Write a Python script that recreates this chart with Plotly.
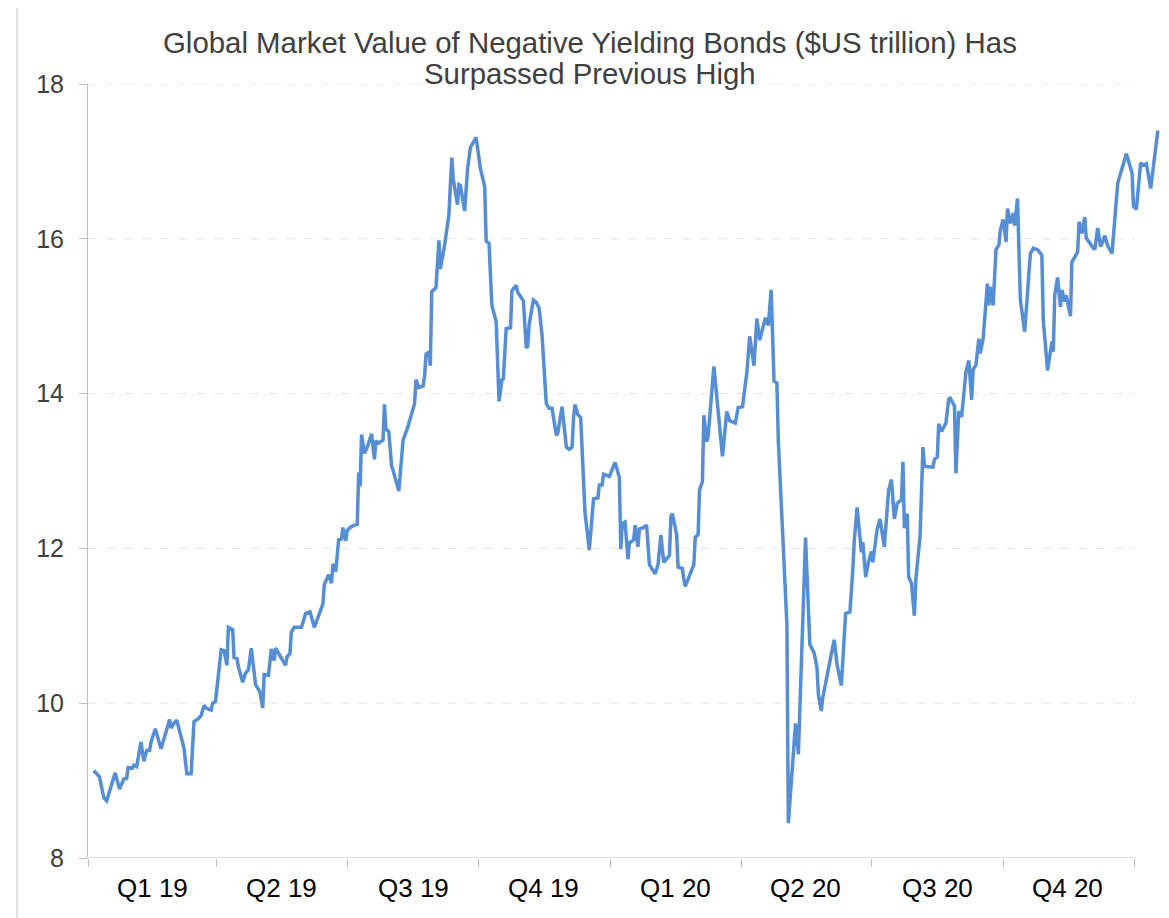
import pandas as pd
import plotly.graph_objects as go

# days after 1 Jan 2019
day_offsets = [
    4, 8, 11, 13, 19, 22, 25, 27, 28, 31, 32, 34, 37, 39, 41, 43, 44, 47, 51, 53,
    54, 57, 58, 60, 62, 67, 69, 72, 74, 77, 79, 81, 83, 86, 87, 89, 93, 95, 97, 98,
    101, 102, 104, 105, 108, 110, 112, 114, 117, 120, 122, 123, 126, 128, 130, 131, 134, 138, 139, 141,
    142, 144, 149, 152, 155, 158, 164, 165, 168, 170, 171, 173, 175, 177, 178, 179, 180, 181, 183, 186,
    188, 189, 190, 191, 193, 195, 198, 200, 201, 203, 206, 207, 208, 210, 212, 213, 217, 220, 223, 228,
    229, 231, 234, 235, 236, 238, 239, 240, 243, 245, 246, 249, 252, 254, 255, 258, 259, 260, 263, 265,
    267, 271, 274, 277, 278, 280, 282, 285, 287, 289, 290, 292, 295, 296, 299, 300, 302, 304, 306, 307,
    308, 311, 313, 315, 317, 320, 322, 324, 327, 328, 331, 334, 336, 338, 339, 340, 342, 344, 347, 350,
    353, 356, 357, 359, 360, 362, 364, 368, 370, 371, 372, 373, 375, 377, 378, 381, 382, 384, 385, 388,
    390, 392, 396, 398, 400, 402, 406, 407, 408, 411, 412, 415, 416, 417, 423, 424, 426, 427, 429, 430,
    432, 433, 437, 443, 446, 448, 452, 454, 457, 460, 462, 465, 467, 469, 473, 475, 477, 479, 481, 482,
    488, 489, 494, 496, 501, 504, 507, 509, 510, 512, 513, 519, 521, 523, 526, 529, 532, 534, 535, 537,
    540, 541, 543, 545, 547, 548, 551, 553, 556, 559, 561, 563, 565, 568, 569, 570, 572, 573, 575, 577,
    578, 581, 583, 584, 590, 591, 593, 594, 596, 599, 601, 602, 605, 606, 608, 610, 613, 615, 617, 618,
    620, 622, 623, 625, 628, 629, 630, 632, 634, 636, 637, 639, 641, 642, 644, 646, 647, 649, 651, 654,
    658, 660, 663, 666, 667, 670, 673, 674, 675, 677, 679, 680, 682, 683, 686, 687, 689, 691, 692, 694,
    696, 697, 702, 703, 705, 707, 708, 710, 712, 715, 719, 722, 725, 729, 730, 732, 735, 737, 739, 742,
    747,
]

market_value = [
    9.13, 9.05, 8.78, 8.74, 9.10, 8.89, 9.02, 9.03, 9.17, 9.16, 9.20, 9.18, 9.50, 9.25, 9.39, 9.39, 9.50, 9.67, 9.41, 9.57,
    9.60, 9.79, 9.68, 9.74, 9.78, 9.42, 9.09, 9.09, 9.76, 9.80, 9.84, 9.97, 9.93, 9.91, 10.00, 10.02, 10.69, 10.68, 10.49, 10.98,
    10.95, 10.59, 10.58, 10.47, 10.27, 10.39, 10.43, 10.71, 10.24, 10.15, 9.94, 10.37, 10.36, 10.70, 10.55, 10.71, 10.61, 10.49, 10.60, 10.64,
    10.92, 10.98, 10.98, 11.16, 11.18, 10.98, 11.28, 11.53, 11.66, 11.55, 11.80, 11.70, 12.11, 12.12, 12.27, 12.19, 12.10, 12.23, 12.27, 12.30,
    12.31, 12.98, 12.80, 13.47, 13.23, 13.31, 13.48, 13.15, 13.39, 13.36, 13.40, 13.86, 13.54, 13.51, 13.06, 13.01, 12.74, 13.40, 13.55, 13.87,
    14.18, 14.08, 14.10, 14.22, 14.51, 14.54, 14.36, 15.32, 15.37, 15.98, 15.61, 15.92, 16.31, 17.05, 16.78, 16.44, 16.70, 16.69, 16.36, 16.90,
    17.18, 17.31, 16.91, 16.67, 15.97, 15.94, 15.14, 14.93, 13.90, 14.18, 14.19, 14.84, 14.85, 15.33, 15.40, 15.31, 15.25, 15.20, 14.59, 14.61,
    14.89, 15.21, 15.18, 15.10, 14.76, 13.87, 13.81, 13.81, 13.46, 13.49, 13.83, 13.31, 13.28, 13.31, 13.68, 13.86, 13.73, 13.69, 12.47, 11.98,
    12.64, 12.65, 12.82, 12.82, 12.96, 12.94, 12.93, 13.11, 12.97, 12.92, 11.99, 12.32, 12.34, 11.86, 12.07, 12.11, 12.30, 12.02, 12.25, 12.27,
    12.30, 11.79, 11.67, 11.79, 12.17, 11.82, 11.91, 12.41, 12.45, 12.18, 11.76, 11.74, 11.60, 11.51, 11.79, 12.14, 12.18, 12.76, 12.86, 13.72,
    13.38, 13.45, 14.35, 13.19, 13.77, 13.65, 13.62, 13.82, 13.83, 14.27, 14.74, 14.36, 14.97, 14.69, 14.98, 14.88, 15.34, 14.16, 14.14, 13.39,
    11.02, 8.45, 9.74, 9.34, 12.14, 10.76, 10.65, 10.46, 10.11, 9.90, 10.07, 10.66, 10.82, 10.50, 10.23, 11.16, 11.18, 11.72, 12.09, 12.53,
    11.95, 12.08, 11.63, 11.83, 11.96, 11.82, 12.25, 12.38, 12.02, 12.75, 12.89, 12.38, 12.58, 12.63, 13.12, 12.26, 12.45, 11.63, 11.55, 11.13,
    11.59, 12.17, 13.31, 13.06, 13.05, 13.15, 13.18, 13.61, 13.51, 13.62, 13.93, 13.94, 13.84, 12.97, 13.77, 13.70, 14.28, 14.43, 13.92, 14.31,
    14.37, 14.71, 14.52, 14.71, 15.42, 15.14, 15.38, 15.14, 15.86, 15.92, 16.11, 16.25, 15.96, 16.39, 16.20, 16.33, 16.17, 16.52, 15.21, 14.80,
    15.81, 15.88, 15.86, 15.79, 14.95, 14.30, 14.67, 14.54, 15.27, 15.50, 15.12, 15.34, 15.19, 15.27, 15.00, 15.70, 15.77, 15.83, 16.22, 16.07,
    16.28, 16.01, 15.88, 15.86, 16.14, 15.90, 15.94, 16.04, 15.91, 15.81, 16.72, 16.91, 17.10, 16.85, 16.42, 16.38, 16.98, 16.95, 16.97, 16.65,
    17.40,
]

quarter_starts = ["2019-01-01", "2019-04-01", "2019-07-01", "2019-10-01", "2020-01-01",
                  "2020-04-01", "2020-07-01", "2020-10-01", "2021-01-01"]
quarter_mids = ["2019-02-15", "2019-05-16", "2019-08-16", "2019-11-15",
                "2020-02-15", "2020-05-16", "2020-08-16", "2020-11-15"]
quarter_labels = ["Q1 19", "Q2 19", "Q3 19", "Q4 19", "Q1 20", "Q2 20", "Q3 20", "Q4 20"]
y_ticks = [8, 10, 12, 14, 16, 18]
title_lines = ["Global Market Value of Negative Yielding Bonds ($US trillion) Has",
               "Surpassed Previous High"]

FONT = "Liberation Sans, Arial, sans-serif"
LINE_BLUE = "#558ed5"
AXIS_GREY = "#bfbfbf"

dates = pd.Timestamp("2019-01-01") + pd.to_timedelta(day_offsets, unit="D")

fig = go.Figure()
fig.add_trace(go.Scatter(
    x=dates, y=market_value, mode="lines",
    line=dict(color=LINE_BLUE, width=3.5),
    showlegend=False,
))

# dashed gridlines and the x axis line stop at the last quarter boundary
for v in y_ticks[1:]:
    fig.add_shape(type="line", xref="x", yref="y",
                  x0=quarter_starts[0], x1=quarter_starts[-1], y0=v, y1=v,
                  line=dict(color="#e6e6e6", width=1, dash="dash"), layer="below")
fig.add_shape(type="line", xref="x", yref="y",
              x0=quarter_starts[0], x1=quarter_starts[-1], y0=8, y1=8,
              line=dict(color=AXIS_GREY, width=1))

# outer chart frame
fig.add_shape(type="rect", xref="paper", yref="paper",
              x0=-0.0662, x1=1.0037, y0=-0.0866, y1=1.1008,
              line=dict(color="#d9d9d9", width=1.5))

for d, lab in zip(quarter_mids, quarter_labels):
    fig.add_annotation(x=d, y=-0.0388, xref="x", yref="paper", text=lab,
                       showarrow=False, yanchor="middle",
                       font=dict(family=FONT, size=26, color="#000000"))

# two title lines as separate annotations to get the tight line spacing
for yy, line in zip([1.054, 1.013], title_lines):
    fig.add_annotation(x=0.468, y=yy, xref="paper", yref="paper", text=line,
                       showarrow=False, xanchor="center", yanchor="middle",
                       font=dict(family=FONT, size=29.4, color="#404040"))

fig.update_layout(
    width=1169, height=918,
    margin=dict(l=80, r=17, t=76, b=68),
    paper_bgcolor="white", plot_bgcolor="white",
    xaxis=dict(
        range=["2019-01-01", "2021-01-18 12:00"],
        tickvals=quarter_starts, showticklabels=False,
        ticks="outside", ticklen=8, tickcolor=AXIS_GREY,
        showgrid=False, showline=False, zeroline=False,
    ),
    yaxis=dict(
        range=[8, 18], tickvals=y_ticks,
        ticks="outside", ticklen=8, tickcolor=AXIS_GREY,
        ticklabelstandoff=10,
        showline=True, linecolor=AXIS_GREY, linewidth=1,
        showgrid=False, zeroline=False,
        tickfont=dict(family=FONT, size=25, color="#404040"),
    ),
)

fig.write_html("out.html")
